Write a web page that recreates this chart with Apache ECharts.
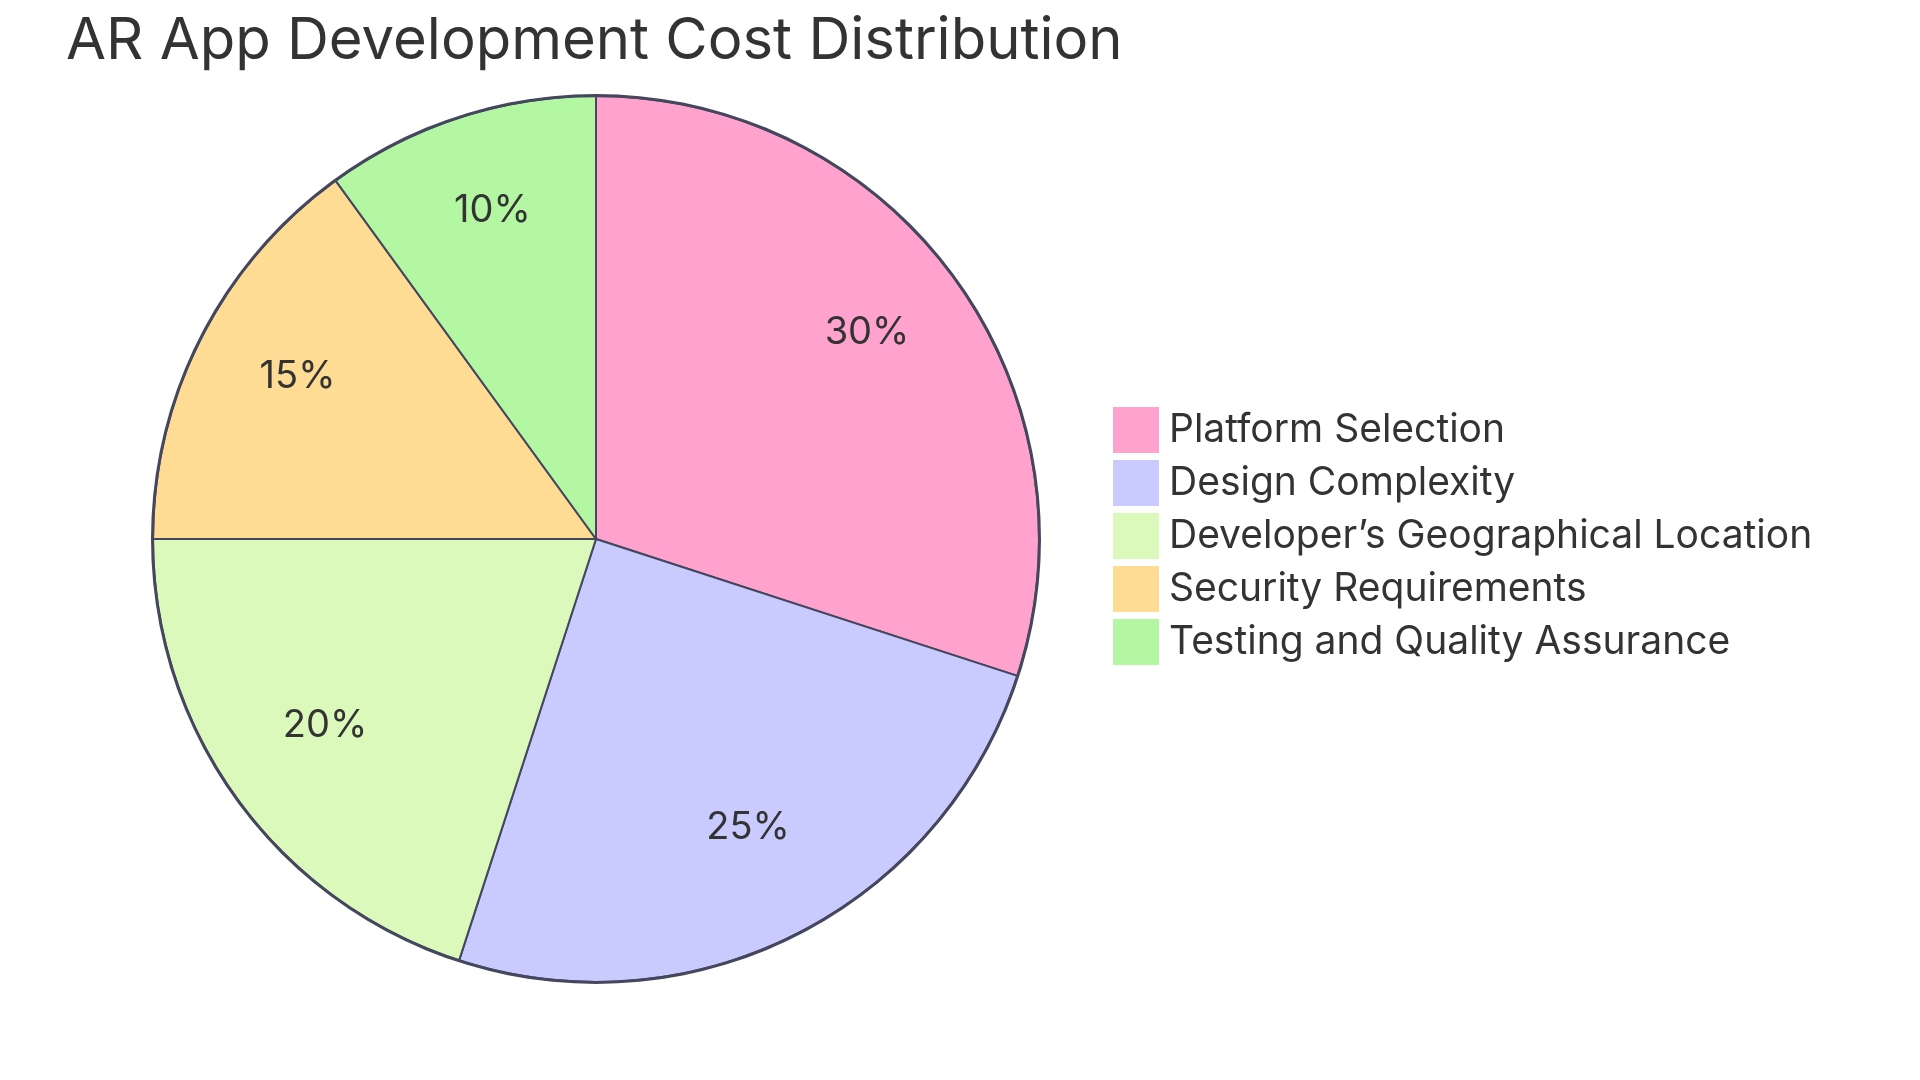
<!DOCTYPE html>
<html>
<head>
<meta charset="utf-8">
<script src="https://cdn.jsdelivr.net/npm/echarts@6/dist/echarts.min.js"></script>
<style>
html,body{margin:0;padding:0;background:#fff;}
#chart{width:1920px;height:1080px;}
</style>
</head>
<body>
<div id="chart"></div>
<script>
const titleText = 'AR App Development Cost Distribution';
const categories = ['Platform Selection', 'Design Complexity', 'Developer\u2019s Geographical Location', 'Security Requirements', 'Testing and Quality Assurance'];
const values = [30, 25, 20, 15, 10];
const colors = ['#FFA3CE', '#C9CAFE', '#DAF9BB', '#FEDC93', '#B3F7A2'];

const FONT = 'Inter, "Noto Sans", sans-serif';
const chart = echarts.init(document.getElementById('chart'), null, {renderer: 'canvas'});
const total = values.reduce((a, b) => a + b, 0);
const pieData = categories.map((c, i) => ({name: c, value: values[i], itemStyle: {color: colors[i]}}));

chart.setOption({
  backgroundColor: '#ffffff',
  animation: false,
  title: {
    text: titleText,
    left: 66, top: 13, padding: 0,
    textStyle: {fontFamily: FONT, fontSize: 58, fontWeight: 'normal', color: '#333333'}
  },
  legend: {
    orient: 'vertical',
    left: 1113, top: 407,
    padding: 0,
    itemWidth: 46, itemHeight: 46, itemGap: 7,
    icon: 'rect',
    data: categories,
    itemStyle: {borderWidth: 0},
    textStyle: {fontFamily: FONT, fontSize: 39, color: '#333333', padding: [0, 0, 0, 5]},
    selectedMode: false
  },
  series: [
    {
      type: 'pie',
      center: [596, 539],
      radius: [0, 443],
      startAngle: 90,
      clockwise: true,
      silent: true,
      label: {show: false},
      labelLine: {show: false},
      itemStyle: {borderColor: '#45475E', borderWidth: 2},
      data: pieData
    },
    {
      type: 'pie',
      center: [596, 539],
      radius: [221, 443],
      startAngle: 90,
      clockwise: true,
      silent: true,
      legendHoverLink: false,
      itemStyle: {color: 'rgba(0,0,0,0)', borderWidth: 0},
      label: {
        show: true, position: 'inside',
        fontFamily: FONT, fontSize: 38, color: '#333333',
        offset: [0, -10],
        formatter: p => Math.round(p.value / total * 100) + '%'
      },
      labelLine: {show: false},
      data: categories.map((c, i) => ({name: c + ' ', value: values[i]}))
    },
    {
      type: 'pie',
      center: [596, 539],
      radius: [442, 445],
      silent: true,
      label: {show: false},
      itemStyle: {color: '#45475E'},
      data: [{name: 'outline', value: 1}]
    }
  ]
});
</script>
</body>
</html>
